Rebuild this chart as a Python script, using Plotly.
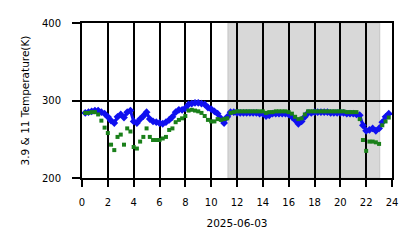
import plotly.graph_objects as go

hours = [0.25 * i for i in range(1, 96)]

temp_39 = [284, 285, 286, 287, 287, 285, 283, 279, 274, 271,
           279, 282, 278, 285, 287, 273, 271, 276, 280, 285,
           276, 273, 272, 271, 270, 272, 275, 279, 285, 288,
           288, 290, 295, 296, 297, 297, 296, 295, 291, 289,
           286, 283, 277, 271, 279, 285, 285, 284, 284, 284,
           284, 284, 284, 284, 283, 283, 280, 281, 283, 283,
           283, 283, 283, 282, 279, 275, 270, 273, 279, 284,
           284, 285, 285, 285, 285, 285, 284, 284, 284, 284,
           284, 283, 283, 283, 282, 281, 268, 261, 262, 264,
           261, 264, 272, 279, 283]

temp_11 = [284, 284, 285, 285, 282, 274, 265, 258, 243, 236,
           253, 256, 243, 264, 260, 240, 238, 247, 253, 264,
           253, 249, 249, 249, 251, 253, 262, 264, 272, 275,
           277, 280, 287, 288, 287, 286, 284, 280, 275, 273,
           273, 276, 275, 276, 277, 284, 285, 286, 286, 286,
           286, 286, 286, 286, 286, 286, 284, 285, 285, 286,
           286, 286, 286, 285, 283, 279, 276, 277, 282, 286,
           286, 286, 286, 286, 286, 286, 286, 286, 286, 286,
           286, 285, 285, 285, 285, 276, 249, 235, 247, 247,
           246, 244, 268, 273, 278]

shade_start = 11.3
shade_end = 23.05
x_ticks = list(range(0, 25, 2))
y_ticks = [200, 300, 400]
x_title = "2025-06-03"
y_title = "3.9 &amp; 11 Temperature(K)"

FONT = "DejaVu Sans"

fig = go.Figure()
fig.add_shape(type="rect", xref="x", yref="y", x0=shade_start, x1=shade_end,
              y0=200, y1=400, fillcolor="#d8d8d8", line=dict(color="#c4c4c4", width=1),
              layer="below")
fig.add_trace(go.Scatter(x=hours, y=temp_39, mode="lines+markers",
                         line=dict(color="#1010f0", width=3),
                         marker=dict(symbol="diamond", size=6, color="#1010f0",
                                     line=dict(width=0)),
                         showlegend=False))
fig.add_trace(go.Scatter(x=hours, y=temp_11, mode="markers",
                         marker=dict(symbol="square", size=4, color="#1a801a",
                                     line=dict(width=0)),
                         showlegend=False))

fig.update_layout(
    width=418, height=248,
    margin=dict(l=82, r=26, t=23, b=70, pad=0),
    paper_bgcolor="white", plot_bgcolor="rgba(0,0,0,0)",
    font=dict(family=FONT, size=10, color="black"),
)
fig.update_xaxes(range=[0, 24], tickvals=x_ticks, ticktext=[str(v) for v in x_ticks],
                 showgrid=True, gridcolor="black", gridwidth=2,
                 showline=True, linecolor="black", linewidth=2, mirror=True,
                 ticks="outside", ticklen=7, tickwidth=2, tickcolor="black",
                 ticklabelstandoff=7,
                 tickfont=dict(size=10), zeroline=False,
                 title=dict(text=x_title, font=dict(size=10.5), standoff=13))
fig.update_yaxes(range=[200, 400], tickvals=y_ticks, ticktext=[str(v) for v in y_ticks],
                 showgrid=True, gridcolor="black", gridwidth=2,
                 showline=True, linecolor="black", linewidth=2, mirror=True,
                 ticks="outside", ticklen=8, tickwidth=2, tickcolor="black",
                 ticklabelstandoff=9,
                 tickfont=dict(size=10), zeroline=False,
                 title=dict(text=y_title, font=dict(size=10.5), standoff=10))

fig.write_html("out.html")
